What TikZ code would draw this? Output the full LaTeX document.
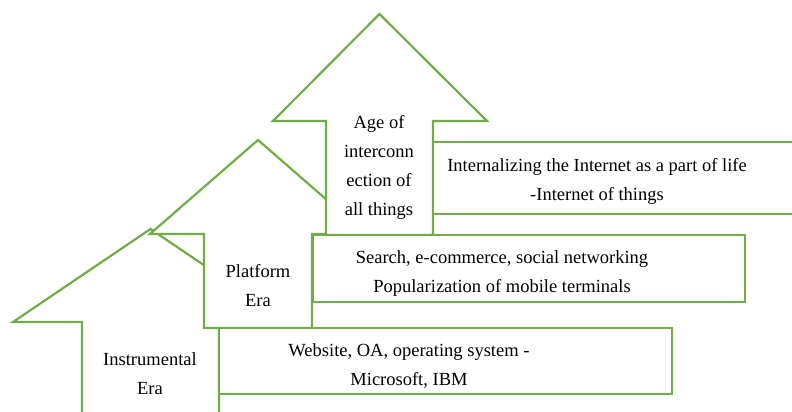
\documentclass[tikz,border=0pt]{standalone}
\usepackage{fontspec}
\setmainfont{Liberation Serif}
\usetikzlibrary{positioning}
\definecolor{eragreen}{HTML}{70AD47}
\tikzset{
  line join=miter,
  outline/.style={draw=eragreen, line width=2.2pt, fill=white},
  eratext/.style={font=\fontsize{18.5}{29}\selectfont, align=center, inner sep=0pt},
}

\begin{document}
\begin{tikzpicture}[x=1pt, y=-1pt]
\useasboundingbox (0,0) rectangle (792,412);
\clip (0,0) rectangle (792,412);

% three up-arrows, lowest first
\draw[outline] (13,322) -- (150.5,229) -- (288,322) -- (219,322)
    -- (219,420) -- (82,420) -- (82,322) -- cycle;
\draw[outline] (150,234) -- (258,140) -- (366,234) -- (312,234)
    -- (312,328) -- (204,328) -- (204,234) -- cycle;
\draw[outline] (273,121) -- (379.5,14) -- (487,121) -- (433,121)
    -- (433,235) -- (326,235) -- (326,121) -- cycle;

% side boxes
\draw[outline] (219,328) rectangle (672,394);
\draw[outline] (313,235) rectangle (745,302);
\draw[outline] (433,142) rectangle (800,214);

% era names
\node[eratext] (instr) at (150,374) {Instrumental\\Era};
\node[eratext] (platf) at (258,286) {Platform\\Era};
\node[eratext] (inter) at (379,167) {Age of\\interconn\\ection of\\all things};

% what each era brought
\node[eratext] (web) at (409,366.5) {Website, OA, operating system -\\Microsoft, IBM};
\node[eratext] (search) at (502,274) {Search, e-commerce, social networking\\Popularization of mobile terminals};
\node[eratext] (iot) at (597,181) {Internalizing the Internet as a part of life\\-Internet of things};
\end{tikzpicture}
\end{document}
